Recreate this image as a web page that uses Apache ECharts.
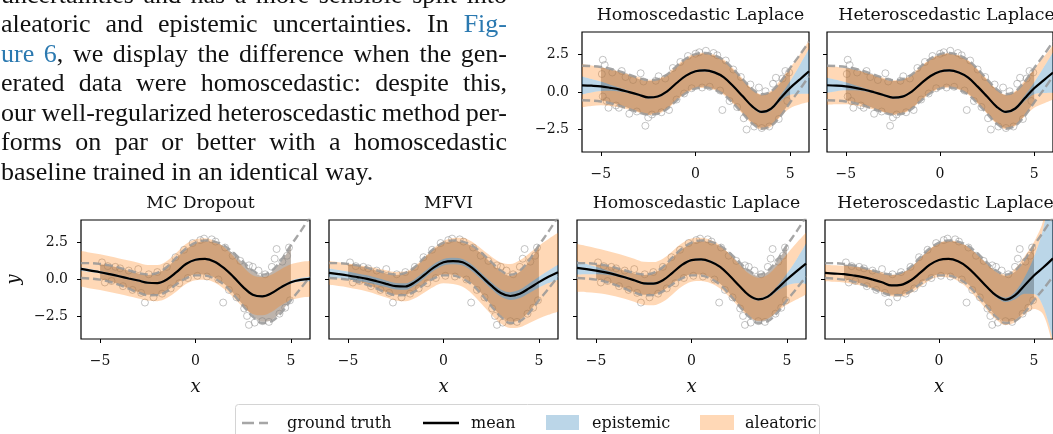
<!DOCTYPE html>
<html>
<head>
<meta charset="utf-8">
<script src="https://cdn.jsdelivr.net/npm/echarts@6/dist/echarts.min.js"></script>
<style>
  html, body { margin: 0; padding: 0; background: #fff; }
  #chart { width: 1053px; height: 434px; }
</style>
</head>
<body>
<div id="chart"></div>
<script>
// x grid shared by every curve
const xs = [-6, -5.5, -5, -4.5, -4, -3.5, -3, -2.5, -2, -1.5, -1, -0.5, 0, 0.5, 1, 1.5, 2, 2.5, 3, 3.5, 4, 4.5, 5, 5.5, 6];

// ground truth mean and 2-sigma spread (homoscedastic top row, heteroscedastic bottom row)
const gtMean = [0.6, 0.58, 0.52, 0.4, 0.22, 0.0, -0.22, -0.36, -0.3, 0.02, 0.58, 1.08, 1.38, 1.45, 1.3, 0.97, 0.38, -0.3, -0.95, -1.3, -1.1, -0.45, 0.45, 1.3, 2.2];
const gtSpreadHomo = [1.15, 1.15, 1.15, 1.15, 1.15, 1.15, 1.15, 1.15, 1.15, 1.15, 1.15, 1.15, 1.15, 1.15, 1.15, 1.15, 1.15, 1.15, 1.15, 1.15, 1.15, 1.15, 1.15, 1.15, 1.15];
const gtSpreadHetero = [0.5, 0.52, 0.53, 0.55, 0.58, 0.62, 0.66, 0.7, 0.75, 0.82, 0.9, 1.0, 1.1, 1.18, 1.25, 1.32, 1.4, 1.48, 1.55, 1.62, 1.7, 1.78, 1.85, 1.92, 2.0];

// visible observations (the dense mass in between is drawn as a cloud)
const pointsHomo = [
  [-4.9, 2.15], [-4.8, 1.8], [-4.95, 1.2], [-4.9, -0.3], [-4.7, -0.6], [-4.6, -1.05], [-4.4, 1.3], [-4.2, -0.9],
  [-4.05, -1.05], [-3.9, 1.4], [-3.7, 1.0], [-3.5, -1.45], [-3.3, 0.8], [-3.1, -1.3], [-2.9, 1.25], [-2.75, 0.7],
  [-2.65, -2.25], [-2.5, -1.7], [-2.3, -1.5], [-2.1, 0.75], [-1.95, 1.05], [-1.8, -1.35], [-1.6, 0.9], [-1.4, -1.2],
  [-1.2, 1.6], [-1.0, -0.5], [-0.8, 2.0], [-0.6, -0.1], [-0.4, 2.4], [-0.2, 0.25], [0.0, 2.55], [0.2, 2.65],
  [0.35, 0.3], [0.55, 2.75], [0.75, 0.35], [0.95, 2.6], [1.15, 2.45], [1.3, 0.1], [1.42, -1.2], [1.6, 2.1],
  [1.8, -0.6], [2.0, 1.5], [2.2, -1.0], [2.4, 1.0], [2.55, -1.75], [2.7, -2.5], [2.9, 0.5], [3.1, -2.3],
  [3.35, 0.3], [3.5, -2.4], [3.7, 0.05], [3.9, -2.3], [4.1, 0.55], [4.25, 0.95], [4.4, -1.8], [4.6, 0.9],
  [4.75, 1.4], [4.85, -0.6], [4.95, 1.3]
];
const pointsHetero = [
  [-4.9, 1.15], [-4.75, -0.2], [-4.6, 0.9], [-4.4, -0.1], [-4.2, 0.85], [-3.95, 0.75], [-3.8, -0.45], [-3.5, 0.6],
  [-3.3, -0.7], [-3.0, 0.7], [-2.85, -0.9], [-2.65, -1.55], [-2.45, 0.35], [-2.2, -1.2], [-2.0, 0.5], [-1.75, -0.95],
  [-1.5, 0.85], [-1.3, -0.6], [-1.05, 1.5], [-0.85, -0.25], [-0.6, 2.0], [-0.4, 0.1], [-0.15, 2.45], [0.1, 0.25],
  [0.25, 2.65], [0.45, 2.75], [0.6, 0.2], [0.85, 2.7], [1.05, 2.55], [1.2, 0.0], [1.45, -1.55], [1.55, 2.15],
  [1.75, -0.7], [1.95, 1.6], [2.15, -1.2], [2.35, 1.25], [2.55, -1.95], [2.7, -2.45], [2.8, 0.95], [2.8, -3.05],
  [3.0, 0.85], [3.1, -2.9], [3.3, 0.6], [3.5, -2.8], [3.65, 0.35], [3.85, -2.85], [4.0, 0.85], [4.15, 1.4],
  [4.25, 2.05], [4.4, -2.3], [4.55, 1.2], [4.7, -1.9], [4.8, 1.6], [4.9, 2.15], [4.95, -1.4]
];

// model predictions: mean, epistemic half width, total (epistemic + aleatoric) half width
const meanTopHomo = [0.44, 0.42, 0.38, 0.28, 0.16, -0.01, -0.18, -0.36, -0.3, 0.04, 0.6, 1.09, 1.38, 1.44, 1.31, 0.98, 0.38, -0.29, -0.96, -1.33, -1.11, -0.4, 0.27, 0.82, 1.38];
const epiTopHomo = [0.6, 0.45, 0.32, 0.2, 0.12, 0.08, 0.07, 0.07, 0.07, 0.07, 0.07, 0.07, 0.07, 0.07, 0.07, 0.07, 0.07, 0.07, 0.07, 0.08, 0.1, 0.2, 0.45, 0.95, 1.5];
const totTopHomo = [1.45, 1.35, 1.27, 1.22, 1.2, 1.18, 1.18, 1.18, 1.18, 1.18, 1.18, 1.18, 1.18, 1.18, 1.18, 1.18, 1.18, 1.18, 1.18, 1.18, 1.2, 1.23, 1.35, 1.65, 2.05];

const meanTopHetero = [0.45, 0.43, 0.38, 0.28, 0.15, -0.02, -0.2, -0.37, -0.31, 0.03, 0.58, 1.07, 1.37, 1.44, 1.3, 0.96, 0.36, -0.3, -0.97, -1.33, -1.1, -0.42, 0.25, 0.78, 1.3];
const epiTopHetero = [0.5, 0.38, 0.27, 0.17, 0.1, 0.07, 0.07, 0.07, 0.07, 0.07, 0.07, 0.07, 0.07, 0.07, 0.07, 0.07, 0.07, 0.07, 0.07, 0.08, 0.1, 0.18, 0.4, 0.85, 1.35];
const totTopHetero = [1.3, 1.25, 1.2, 1.18, 1.16, 1.15, 1.15, 1.15, 1.15, 1.15, 1.15, 1.15, 1.15, 1.15, 1.15, 1.15, 1.15, 1.15, 1.15, 1.15, 1.16, 1.2, 1.3, 1.55, 1.8];

const meanDropout = [0.71, 0.6, 0.49, 0.36, 0.22, 0.07, -0.07, -0.22, -0.24, 0.0, 0.49, 1.04, 1.33, 1.38, 1.2, 0.76, 0.16, -0.51, -1.02, -1.13, -0.91, -0.51, -0.18, -0.02, 0.04];
const epiDropout = [0.12, 0.1, 0.08, 0.07, 0.07, 0.07, 0.07, 0.07, 0.07, 0.07, 0.07, 0.07, 0.07, 0.07, 0.07, 0.07, 0.07, 0.07, 0.07, 0.07, 0.07, 0.08, 0.1, 0.12, 0.15];
const totDropout = [1.2, 1.2, 1.2, 1.2, 1.2, 1.2, 1.2, 1.2, 1.22, 1.25, 1.3, 1.35, 1.38, 1.4, 1.4, 1.4, 1.38, 1.35, 1.3, 1.28, 1.25, 1.22, 1.2, 1.2, 1.2];

const meanMfvi = [0.44, 0.36, 0.27, 0.16, 0.04, -0.12, -0.29, -0.45, -0.47, -0.18, 0.31, 0.82, 1.16, 1.24, 1.16, 0.78, 0.2, -0.4, -0.91, -1.11, -0.96, -0.58, -0.18, 0.18, 0.49];
const epiMfvi = [0.3, 0.28, 0.26, 0.25, 0.24, 0.23, 0.22, 0.22, 0.22, 0.22, 0.22, 0.22, 0.22, 0.22, 0.22, 0.22, 0.22, 0.23, 0.24, 0.26, 0.28, 0.32, 0.36, 0.42, 0.5];
const totMfvi = [0.8, 0.8, 0.8, 0.82, 0.85, 0.88, 0.92, 0.96, 1.0, 1.08, 1.18, 1.3, 1.42, 1.55, 1.65, 1.75, 1.85, 1.95, 2.05, 2.15, 2.25, 2.35, 2.45, 2.55, 2.65];

const meanBotHomo = [0.78, 0.7, 0.6, 0.48, 0.33, 0.15, -0.05, -0.26, -0.28, -0.05, 0.45, 0.98, 1.3, 1.35, 1.2, 0.85, 0.25, -0.42, -1.05, -1.33, -1.15, -0.6, 0.0, 0.55, 1.07];
const epiBotHomo = [0.45, 0.35, 0.25, 0.16, 0.1, 0.08, 0.07, 0.07, 0.07, 0.07, 0.07, 0.07, 0.07, 0.07, 0.07, 0.07, 0.07, 0.07, 0.07, 0.08, 0.1, 0.18, 0.4, 0.8, 1.35];
const totBotHomo = [1.6, 1.55, 1.5, 1.47, 1.45, 1.45, 1.45, 1.45, 1.45, 1.45, 1.45, 1.45, 1.45, 1.45, 1.45, 1.45, 1.45, 1.45, 1.45, 1.45, 1.47, 1.55, 1.7, 1.9, 2.07];

const meanBotHetero = [0.44, 0.4, 0.36, 0.27, 0.16, 0.0, -0.18, -0.4, -0.36, -0.07, 0.44, 0.98, 1.31, 1.38, 1.22, 0.82, 0.2, -0.47, -1.07, -1.36, -1.07, -0.4, 0.27, 0.82, 1.42];
const epiBotHetero = [0.06, 0.05, 0.05, 0.05, 0.05, 0.05, 0.05, 0.05, 0.05, 0.05, 0.05, 0.05, 0.05, 0.05, 0.05, 0.05, 0.06, 0.07, 0.1, 0.15, 0.25, 0.55, 1.25, 2.7, 5.5];
const totBotHetero = [0.55, 0.55, 0.56, 0.58, 0.6, 0.63, 0.67, 0.72, 0.78, 0.86, 0.95, 1.05, 1.15, 1.25, 1.32, 1.4, 1.48, 1.55, 1.62, 1.7, 1.8, 1.95, 2.25, 3.2, 6.0];

// tick labels
const xTicks = [-5, 0, 5];
const yTicks = [-2.5, 0, 2.5];

// paragraph to the left of the top row ([..] = link colour)
const paragraphLines = [
  'uncertainties and has a more sensible split into',
  'aleatoric and epistemic uncertainties.  In [Fig-]',
  '[ure] [6], we display the difference when the gen-',
  'erated data were homoscedastic: despite this,',
  'our well-regularized heteroscedastic method per-',
  'forms on par or better with a homoscedastic',
  'baseline trained in an identical way.'
];

const legendLabels = ['ground truth', 'mean', 'epistemic', 'aleatoric'];

const SERIF = '"DejaVu Serif", serif';
const BLUE = 'rgba(31,119,180,0.3)';
const ORANGE = 'rgba(255,127,14,0.3)';

const panels = [
  {title: 'Homoscedastic Laplace', left: 582, top: 32, w: 227, h: 120, mean: meanTopHomo, epi: epiTopHomo, tot: totTopHomo, spread: gtSpreadHomo, points: pointsHomo, yLabels: true, names: false},
  {title: 'Heteroscedastic Laplace', left: 827, top: 32, w: 227, h: 120, mean: meanTopHetero, epi: epiTopHetero, tot: totTopHetero, spread: gtSpreadHomo, points: pointsHomo, yLabels: false, names: false},
  {title: 'MC Dropout', left: 81, top: 220, w: 229, h: 119, mean: meanDropout, epi: epiDropout, tot: totDropout, spread: gtSpreadHetero, points: pointsHetero, yLabels: true, names: true},
  {title: 'MFVI', left: 329, top: 220, w: 229, h: 119, mean: meanMfvi, epi: epiMfvi, tot: totMfvi, spread: gtSpreadHetero, points: pointsHetero, yLabels: false, names: true},
  {title: 'Homoscedastic Laplace', left: 577, top: 220, w: 229, h: 119, mean: meanBotHomo, epi: epiBotHomo, tot: totBotHomo, spread: gtSpreadHetero, points: pointsHetero, yLabels: false, names: true},
  {title: 'Heteroscedastic Laplace', left: 825, top: 220, w: 229, h: 119, mean: meanBotHetero, epi: epiBotHetero, tot: totBotHetero, spread: gtSpreadHetero, points: pointsHetero, yLabels: false, names: true}
];
const P = panels.length;

const minus = v => (v < 0 ? '\u2212' : '') + Math.abs(v);

// stacked band on the hidden category axis of panel i: invisible base then filled layers
function bandSeries(i, stackName, base, layers, z) {
  const common = {
    type: 'line', xAxisIndex: P + i, yAxisIndex: i, stack: stackName, stackStrategy: 'all',
    smooth: 0.35, showSymbol: false, silent: true, z: z, lineStyle: {width: 0, opacity: 0}
  };
  const out = [Object.assign({}, common, {data: base})];
  layers.forEach(l => out.push(Object.assign({}, common, {data: l.data, areaStyle: {color: l.color, opacity: 1}})));
  return out;
}

function panelSeries(p, i) {
  const series = [];
  // dense data cloud, only where data exist (-5..5)
  const inData = k => xs[k] >= -5 && xs[k] <= 5;
  const cloudBase = xs.map((x, k) => inData(k) ? gtMean[k] - p.spread[k] * 0.95 : null);
  const cloudFill = xs.map((x, k) => inData(k) ? 2 * p.spread[k] * 0.95 : null);
  series.push(...bandSeries(i, 'cloud' + i, cloudBase, [{data: cloudFill, color: 'rgb(190,180,172)'}], 1));
  series.push({
    type: 'scatter', xAxisIndex: i, yAxisIndex: i, data: p.points, symbol: 'circle', symbolSize: 7, silent: true, z: 1,
    itemStyle: {color: 'rgba(255,255,255,0)', borderColor: 'rgba(120,120,120,0.55)', borderWidth: 1}
  });
  // uncertainty bands: aleatoric outside, epistemic in the middle
  const base = p.mean.map((m, k) => m - p.tot[k]);
  const ale = p.tot.map((t, k) => t - p.epi[k]);
  const epi = p.epi.map(e => 2 * e);
  series.push(...bandSeries(i, 'band' + i, base, [
    {data: ale, color: ORANGE}, {data: epi, color: BLUE}, {data: ale, color: ORANGE}
  ], 2));
  // ground truth
  [1, -1].forEach(s => series.push({
    type: 'line', xAxisIndex: P + i, yAxisIndex: i, smooth: 0.35, showSymbol: false, silent: true, z: 3,
    data: gtMean.map((g, k) => g + s * p.spread[k]),
    lineStyle: {color: 'rgba(150,150,150,0.85)', width: 2.4, type: [8, 4]}
  }));
  // predictive mean
  series.push({
    type: 'line', xAxisIndex: P + i, yAxisIndex: i, smooth: 0.35, showSymbol: false, silent: true, z: 4,
    data: p.mean, lineStyle: {color: '#000', width: 2.2}
  });
  return series;
}

// justified paragraph drawn as text pieces
function paragraphGraphic() {
  const font = '26px "Liberation Serif", serif';
  const ctx = document.createElement('canvas').getContext('2d');
  ctx.font = font;
  const width = 506, x0 = 1, lineGap = 29.5, firstMid = -4;
  const out = [];
  paragraphLines.forEach((line, li) => {
    const words = line.split(/\s+/).map(w => {
      const segs = [];
      w.replace(/\[([^\]]*)\]|([^\[]+)/g, (m, link, plain) => {
        segs.push({text: link !== undefined ? link : plain, color: link !== undefined ? '#2b79b0' : '#111'});
      });
      segs.forEach(s => s.w = ctx.measureText(s.text).width);
      return {segs: segs, w: segs.reduce((a, s) => a + s.w, 0)};
    });
    const total = words.reduce((a, w) => a + w.w, 0);
    const last = li === paragraphLines.length - 1;
    const gap = last ? ctx.measureText(' ').width : (width - total) / (words.length - 1);
    let x = x0;
    const y = firstMid + li * lineGap;
    words.forEach(w => {
      w.segs.forEach(s => {
        out.push({type: 'text', x: x, y: y, silent: true, style: {text: s.text, font: font, fill: s.color, verticalAlign: 'middle'}});
        x += s.w;
      });
      x += gap;
    });
  });
  return out;
}

function legendGraphic() {
  const font = '16px ' + SERIF;
  const y = 423;
  return [
    {type: 'rect', shape: {x: 235.5, y: 404.5, width: 584, height: 44, r: 3}, style: {fill: '#fff', stroke: '#d4d4d4', lineWidth: 1}, z: 10},
    {type: 'line', shape: {x1: 242, y1: y, x2: 268, y2: y}, style: {stroke: 'rgba(150,150,150,0.85)', lineWidth: 2.6, lineDash: [12, 5]}, z: 11},
    {type: 'text', x: 287, y: y + 1, style: {text: legendLabels[0], font: font, fill: '#111', verticalAlign: 'middle'}, z: 11},
    {type: 'line', shape: {x1: 423, y1: y, x2: 459, y2: y}, style: {stroke: '#000', lineWidth: 2.6}, z: 11},
    {type: 'text', x: 471, y: y + 1, style: {text: legendLabels[1], font: font, fill: '#111', verticalAlign: 'middle'}, z: 11},
    {type: 'rect', shape: {x: 546, y: 415, width: 33, height: 15}, style: {fill: BLUE}, z: 11},
    {type: 'text', x: 592, y: y + 1, style: {text: legendLabels[2], font: font, fill: '#111', verticalAlign: 'middle'}, z: 11},
    {type: 'rect', shape: {x: 700, y: 415, width: 34, height: 15}, style: {fill: ORANGE}, z: 11},
    {type: 'text', x: 745, y: y + 1, style: {text: legendLabels[3], font: font, fill: '#111', verticalAlign: 'middle'}, z: 11}
  ];
}

const chart = echarts.init(document.getElementById('chart'));

// visible value axes for ticks and scatter
const valueXAxes = panels.map((p, i) => ({
  type: 'value', gridIndex: i, min: -6, max: 6,
  name: p.names ? 'x' : '', nameLocation: 'middle', nameGap: 39,
  nameTextStyle: {fontFamily: SERIF, fontSize: 18, fontStyle: 'italic', color: '#111'},
  axisLine: {show: false, onZero: false}, splitLine: {show: false},
  axisTick: {show: true, inside: false, length: 4, customValues: xTicks, lineStyle: {color: '#000', width: 1}},
  axisLabel: {show: true, customValues: xTicks, margin: 15, formatter: v => minus(v), fontFamily: SERIF, fontSize: 14, color: '#111'}
}));
// hidden category axes on the same x grid, used by the stacked curves
const curveXAxes = panels.map((p, i) => ({
  type: 'category', gridIndex: i, data: xs, boundaryGap: false, show: false
}));

const option = {
  animation: false,
  backgroundColor: '#fff',
  title: panels.map(p => ({
    text: p.title, left: p.left + p.w / 2 + (p.left > 820 ? 1 : 0), top: p.top - 30, textAlign: 'center',
    textStyle: {fontFamily: SERIF, fontSize: 17.3, fontWeight: 'normal', color: '#111'}
  })),
  grid: panels.map(p => ({left: p.left, top: p.top, width: p.w, height: p.h, show: true, borderColor: '#000', borderWidth: 1.2, backgroundColor: 'transparent'})),
  xAxis: valueXAxes.concat(curveXAxes),
  yAxis: panels.map((p, i) => ({
    type: 'value', gridIndex: i, min: -4, max: 4,
    name: i === 2 ? 'y' : '', nameLocation: 'middle', nameGap: 58, nameRotate: 90,
    nameTextStyle: {fontFamily: SERIF, fontSize: 18, fontStyle: 'italic', color: '#111'},
    axisLine: {show: false, onZero: false}, splitLine: {show: false},
    axisTick: {show: true, inside: false, length: 4, customValues: yTicks, lineStyle: {color: '#000', width: 1}},
    axisLabel: {show: p.yLabels, customValues: yTicks, margin: 13, formatter: v => minus(v).replace(/^(\u2212?)(\d)$/, '$1$2.0'), fontFamily: SERIF, fontSize: 14, color: '#111'}
  })),
  series: panels.flatMap(panelSeries),
  graphic: paragraphGraphic().concat(legendGraphic())
};

chart.setOption(option);
</script>
</body>
</html>
